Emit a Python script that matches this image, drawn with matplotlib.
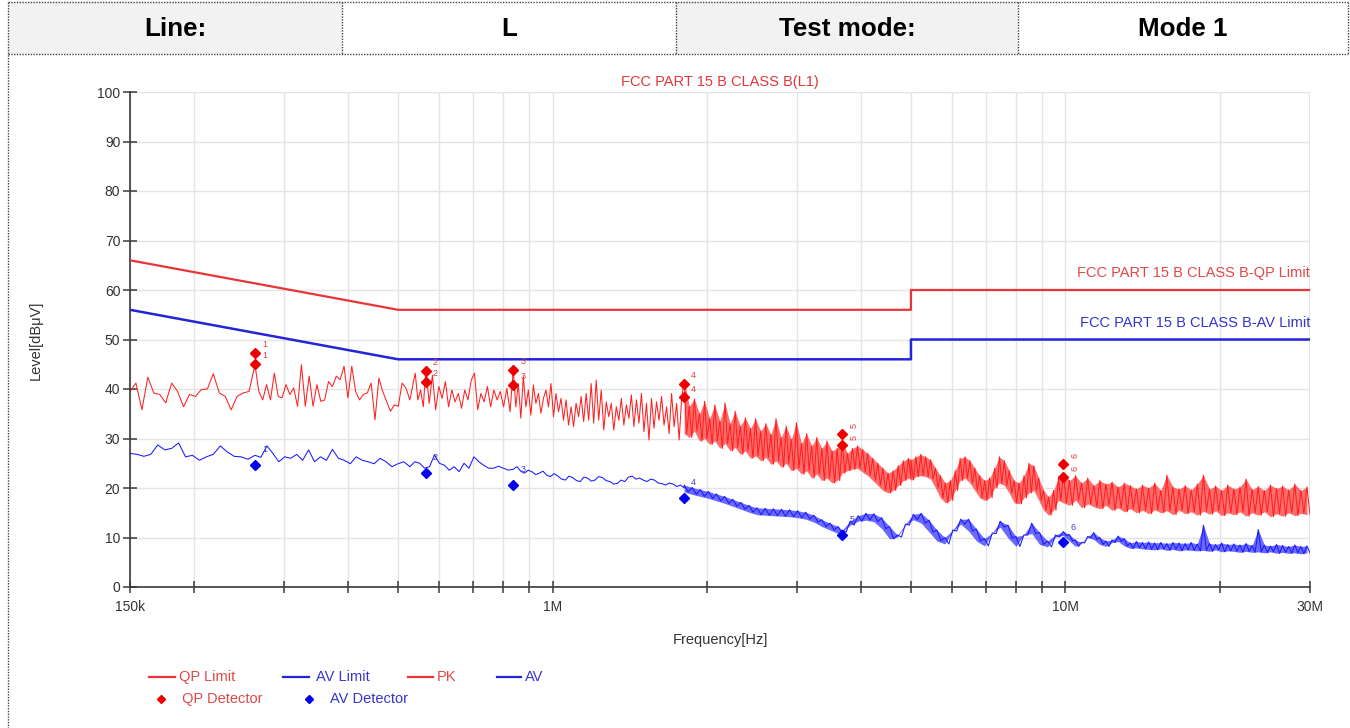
import numpy as np
import matplotlib
matplotlib.use("Agg")
import matplotlib.pyplot as plt
from matplotlib.patches import Rectangle

plt.rcParams['font.family'] = ['Liberation Sans', 'DejaVu Sans']

# ---------------- data ----------------
header_cells = ['Line:', 'L', 'Test mode:', 'Mode 1']
chart_title = 'FCC PART 15 B CLASS B(L1)'
qp_limit_label = 'FCC PART 15 B CLASS B-QP Limit'
av_limit_label = 'FCC PART 15 B CLASS B-AV Limit'

qp_limit_freq = [150e3, 500e3, 5e6, 5e6, 30e6]
qp_limit_level = [66, 56, 56, 60, 60]
av_limit_freq = [150e3, 500e3, 5e6, 5e6, 30e6]
av_limit_level = [56, 46, 46, 50, 50]

marker_ids = ['1', '2', '3', '4', '5', '6']
marker_freq = [262.9e3, 566.5e3, 838.5e3, 1.806e6, 3.673e6, 9.91e6]
qp_marker_hi = [47.3, 43.7, 43.8, 41.1, 30.9, 24.8]
qp_marker_lo = [45.0, 41.5, 40.9, 38.3, 28.6, 22.2]
av_marker = [24.6, 23.0, 20.6, 18.0, 10.5, 9.0]

x_ticks = [150e3, 1e6, 10e6, 30e6]
x_tick_labels = ['150k', '1M', '10M', '30M']
y_ticks = list(range(0, 101, 10))

legend_row1 = ['QP Limit', 'AV Limit', 'PK', 'AV']
legend_row2 = ['QP Detector', 'AV Detector']

# PK sweep, read piecewise between anchor frequencies
pk_bounds = [150e3, 262.9e3, 527e3, 566.5e3, 838.5e3, 1.806e6, 3.673e6, 5e6, 9.91e6, 30e6]
pk_seg1 = [39.5, 41.2, 35.8, 42.4, 39.2, 38.9, 37.2, 41.2, 39.5, 36.4, 38.9, 38.5, 39.9, 40.0,
           43.1, 39.2, 38.5, 35.8, 38.5, 39.2, 39.5, 44.9]
pk_seg2 = [44.9, 39.5, 37.8, 40.9, 37.8, 43.2, 38.5, 38.2, 40.9, 38.9, 40.2, 36.5, 44.9, 36.5,
           42.6, 36.5, 40.9, 37.5, 37.8, 41.5, 40.5, 42.6, 41.9, 44.6, 38.2, 44.6, 39.5, 37.8,
           38.9, 39.2, 41.2, 33.8, 42.2, 39.5, 37.5, 35.5, 36.8, 36.5, 41.2, 40.2, 37.8]
pk_seg3 = [37.8, 40.5, 43.2, 37.8, 39.8, 36.4, 44.0]
pk_seg4 = [44.0, 37.1, 42.8, 35.8, 40.5, 38.1, 41.5, 36.4, 39.8, 37.4, 39.1, 36.1, 39.8, 37.8,
           41.8, 43.2, 35.8, 39.1, 37.4, 40.5, 36.4, 39.8, 37.8, 39.5, 36.4, 40.1, 35.4, 44.0]
pk_seg5 = [44.0, 36.4, 41.1, 34.1, 42.5, 36.4, 39.8, 34.7, 40.8, 37.1, 39.1, 35.1, 38.1, 39.8,
           36.4, 41.1, 34.4, 39.1, 35.4, 38.1, 33.7, 37.8, 32.7, 36.4, 32.4, 37.1, 34.4, 38.5,
           33.4, 39.1, 33.7, 41.1, 33.1, 41.8, 33.7, 39.8, 31.7, 37.4, 34.4, 37.1, 31.7, 36.4,
           33.7, 38.1, 32.7, 36.8, 34.1, 38.8, 32.4, 37.8, 33.1, 39.1, 31.4, 37.1, 29.7, 38.1,
           32.1, 37.4, 33.7, 38.5, 32.7, 36.4, 31.0, 39.1, 32.4, 37.1, 29.7, 38.1, 41.8]
pk_seg6 = [41.8, 31.0, 36.5, 30.2, 38.0, 31.5, 35.0, 29.5, 37.5, 30.0, 34.0, 28.8, 36.8, 29.5,
           33.5, 28.0, 37.2, 29.0, 33.0, 27.5, 35.5, 28.2, 32.5, 26.8, 34.2, 27.5, 32.0, 26.0,
           34.0, 26.5, 31.5, 25.5, 33.0, 26.2, 30.8, 24.8, 34.0, 25.5, 30.2, 24.2, 32.5, 25.0,
           29.8, 23.5, 33.2, 24.0, 29.0, 22.8, 31.0, 23.5, 28.5, 22.0, 30.2, 22.8, 28.0, 21.5,
           29.5, 22.0, 27.5, 21.0, 28.0, 21.5, 29.5]
pk_seg7 = [29.5, 23.0, 27.0, 23.5, 28.0, 23.8, 28.5, 24.0, 27.8, 23.2, 27.0, 22.5, 26.0, 21.5,
           25.0, 20.5, 24.0, 19.5, 23.0, 19.0, 23.5, 19.5, 24.5, 20.5, 25.5, 21.5, 26.0, 22.0]
pk_seg8 = [25.7, 21.6, 26.3, 22.3, 26.8, 22.5, 26.3, 22.3, 25.7, 21.8, 24.0, 20.0, 22.5, 18.0,
           21.0, 17.0, 21.5, 17.5, 23.5, 19.5, 26.0, 21.5, 26.3, 22.0, 25.5, 21.0, 24.0, 19.5,
           22.5, 18.0, 21.5, 17.5, 22.0, 18.0, 24.0, 20.0, 26.3, 21.0, 25.5, 20.5, 23.5, 19.0,
           21.5, 17.0, 21.0, 16.8, 22.5, 18.0, 25.0, 19.0, 24.5, 19.5, 22.0, 17.5, 19.5, 15.5,
           18.2, 14.5, 19.5, 15.5, 22.0, 17.5, 23.0]
pk_seg9 = [23.0, 17.0, 21.5, 16.5, 22.5, 17.5, 21.0, 16.0, 22.0, 16.8, 20.5, 16.2, 21.5, 15.8,
           20.8, 16.5, 21.2, 15.5, 20.2, 16.0, 21.0, 15.2, 20.5, 15.8, 19.8, 15.0, 20.6, 15.5,
           20.0, 14.8, 21.0, 15.6, 19.5, 15.0, 22.6, 15.4, 20.2, 14.6, 19.8, 15.5, 20.5, 14.8,
           19.6, 15.2, 20.8, 14.5, 22.6, 15.3, 19.8, 14.7, 20.4, 15.4, 19.5, 14.4, 20.6, 15.0,
           19.8, 14.6, 20.2, 15.2, 21.8, 14.3, 19.7, 15.0, 20.3, 14.5, 19.5, 15.2, 20.6, 14.2,
           19.9, 14.8, 20.4, 14.3, 19.6, 15.0, 20.8, 14.4, 19.5, 14.9, 20.2, 14.6]

# AV sweep
av_bounds = [150e3, 262.9e3, 527e3, 838.5e3, 1.806e6, 3.673e6, 9.91e6, 30e6]
av_seg1 = [27.0, 26.8, 26.4, 26.8, 28.7, 27.7, 28.0, 29.1, 26.3, 26.6, 25.6, 26.3, 26.8, 28.5,
           27.3, 26.4, 26.3, 25.8, 26.6]
av_seg2 = [26.6, 26.2, 28.5, 27.0, 25.3, 26.3, 26.0, 26.8, 25.6, 27.7, 25.3, 26.3, 25.6, 27.8,
           26.0, 25.6, 24.9, 26.3, 25.6, 25.3, 24.9, 26.0, 25.3, 24.3, 24.9, 25.3, 24.3]
av_seg3 = [24.3, 25.3, 25.0, 24.0, 24.3, 26.7, 25.0, 24.6, 23.6, 24.3, 23.3, 25.0, 24.0, 26.3,
           25.3, 24.6, 24.0, 24.0, 24.4, 24.0, 23.6, 23.8]
av_seg4 = [23.8, 24.3, 23.4, 23.0, 23.6, 23.3, 22.7, 23.0, 23.4, 22.6, 22.3, 22.9, 22.4, 21.8,
           21.6, 22.4, 22.1, 21.5, 21.3, 22.2, 22.0, 21.4, 21.6, 22.3, 22.1, 21.5, 21.3, 20.8,
           20.9, 21.6, 21.3, 22.2, 22.4, 21.8, 22.0, 21.6, 21.3, 21.8, 21.6, 21.0, 20.9, 20.6,
           21.0, 20.8, 20.3, 20.6, 20.0]
av_seg5 = [20.6, 19.2, 20.1, 18.7, 19.7, 18.3, 19.3, 17.9, 18.8, 17.4, 18.3, 16.9, 17.7, 16.3,
           17.1, 15.7, 16.5, 15.1, 16.0, 14.6, 15.9, 14.5, 15.8, 14.4, 15.7, 14.3, 15.6, 14.2,
           15.4, 14.0, 15.1, 13.7, 14.5, 13.1, 13.6, 12.2, 12.9, 11.5, 12.2, 10.8]
av_seg6 = [11.5, 11.1, 13.3, 12.5, 14.4, 13.3, 14.9, 13.5, 14.8, 13.2, 14.0, 11.8, 12.2, 9.7,
           10.5, 10.1, 12.7, 12.5, 14.7, 13.6, 14.9, 12.9, 13.5, 11.1, 11.5, 9.3, 10.0, 8.7,
           11.5, 11.3, 13.7, 12.7, 13.7, 11.3, 11.7, 9.3, 9.8, 8.3, 10.9, 10.8, 13.3, 12.1,
           12.5, 9.9, 10.2, 8.2, 10.5, 10.5, 12.9, 10.8, 11.0, 8.6, 9.3, 8.1, 10.5, 10.1, 11.2]
av_seg7 = [11.2, 10.4, 10.6, 9.3, 9.5, 8.2, 9.0, 8.9, 10.2, 10.0, 11.0, 9.6, 10.0, 8.6, 9.3,
           8.2, 9.5, 9.0, 10.3, 9.2, 9.8, 8.3, 8.9, 7.8, 9.2, 7.9, 9.0, 7.7, 9.1, 7.6, 8.9, 7.5,
           9.0, 7.7, 8.8, 7.4, 9.0, 7.6, 8.9, 7.3, 8.8, 7.5, 9.0, 7.4, 8.7, 7.3, 12.5, 7.4, 8.8,
           7.2, 8.6, 7.5, 8.9, 7.1, 8.6, 7.3, 8.7, 7.2, 8.5, 7.0, 8.8, 7.2, 8.4, 7.0, 11.6, 7.1,
           8.5, 6.9, 8.3, 7.1, 8.6, 6.8, 8.4, 7.0, 8.2, 6.8, 8.5, 6.9, 8.2, 6.7, 8.3, 6.9]

pk_segments = [pk_seg1, pk_seg2, pk_seg3, pk_seg4, pk_seg5, pk_seg6, pk_seg7, pk_seg8, pk_seg9]
av_segments = [av_seg1, av_seg2, av_seg3, av_seg4, av_seg5, av_seg6, av_seg7]
pk_dense_from = 5   # segments from this index on are read as alternating top/bottom of a band
av_dense_from = 4


def sweep(bounds, segments):
    freqs, levels = [], []
    for f0, f1, vals in zip(bounds[:-1], bounds[1:], segments):
        freqs.extend(np.geomspace(f0, f1, len(vals)))
        levels.extend(vals)
    return np.array(freqs), np.array(levels)


def band(bounds, segments, start):
    fx, lo, hi = [], [], []
    for k, (f0, f1, vals) in enumerate(zip(bounds[:-1], bounds[1:], segments)):
        if k < start:
            continue
        f = np.geomspace(f0, f1, len(vals))
        for j in range(0, len(vals) - 1, 2):
            fx.append(f[j])
            lo.append(min(vals[j], vals[j + 1]))
            hi.append(max(vals[j], vals[j + 1]))
    return np.array(fx), np.array(lo), np.array(hi)


pk_f, pk_v = sweep(pk_bounds, pk_segments)
av_f, av_v = sweep(av_bounds, av_segments)
pkb_f, pkb_lo, pkb_hi = band(pk_bounds, pk_segments, pk_dense_from)
avb_f, avb_lo, avb_hi = band(av_bounds, av_segments, av_dense_from)

# ---------------- styling ----------------
RED = '#ff2020'
RED_LIM = '#e8353a'
BLUE = '#1a1aff'
BLUE_LIM = '#2424d8'
TXT = '#333333'
RED_TXT = '#e04848'
BLUE_TXT = '#3535cc'
FS = 10.5

W, H = 1350, 728
fig = plt.figure(figsize=(W / 100, H / 100), dpi=100)
fig.patch.set_facecolor('white')

# background overlay (pixel coordinates)
bg = fig.add_axes([0, 0, 1, 1], zorder=-5)
bg.set_xlim(0, W)
bg.set_ylim(H, 0)
bg.axis('off')
cell_edges = [8, 342, 676, 1018, 1348]
hdr_top, hdr_bot = 2, 54
for i, label in enumerate(header_cells):
    x0, x1 = cell_edges[i], cell_edges[i + 1]
    if i % 2 == 0:
        bg.add_patch(Rectangle((x0, hdr_top), x1 - x0, hdr_bot - hdr_top,
                               facecolor='#f2f2f2', edgecolor='none'))
    bg.text((x0 + x1) / 2, (hdr_top + hdr_bot) / 2 + 1, label, ha='center', va='center',
            fontsize=18.7, fontweight='bold', color='black')
dot = dict(color='#444444', lw=1, ls=(0, (1, 1)))
bg.plot([8, 1348], [hdr_top, hdr_top], **dot)
bg.plot([8, 1348], [hdr_bot, hdr_bot], **dot)
for xe in cell_edges[1:]:
    bg.plot([xe, xe], [hdr_top, hdr_bot], **dot)
bg.plot([8, 8], [hdr_top, H], **dot)

# legend drawn at fixed pixel places (as laid out in the report)
row1_y, row2_y = 677, 699
row1_handles = [(149, 175, RED_LIM), (283, 309, BLUE_LIM), (408, 433, RED_LIM), (497, 521, BLUE_LIM)]
row1_text_x = [179, 316, 437, 525]
row1_colors = [RED_TXT, BLUE_TXT, RED_TXT, BLUE_TXT]
for (xa, xb, c), tx, lab, tc in zip(row1_handles, row1_text_x, legend_row1, row1_colors):
    bg.plot([xa, xb], [row1_y, row1_y], color=c, lw=1.6)
    bg.text(tx, row1_y, lab, ha='left', va='center', fontsize=FS, color=tc)
row2_marker_x = [161, 309]
row2_text_x = [182, 330]
row2_colors = [('#ee0000', RED_TXT), ('#0000ee', BLUE_TXT)]
for mx, tx, lab, (mc, tc) in zip(row2_marker_x, row2_text_x, legend_row2, row2_colors):
    bg.plot([mx], [row2_y], ls='none', marker='D', ms=4, color=mc)
    bg.text(tx, row2_y, lab, ha='left', va='center', fontsize=FS, color=tc)

# main axes
L, R, T, B = 130, 1310, 92, 587
ax = fig.add_axes([L / W, 1 - B / H, (R - L) / W, (B - T) / H])
ax.set_facecolor('white')
ax.set_xscale('log')
ax.set_xlim(150e3, 30e6)
ax.set_ylim(0, 100)

ax.fill_between(pkb_f, pkb_lo, pkb_hi, color=RED, alpha=0.65, lw=0, zorder=2)
ax.fill_between(avb_f, avb_lo, avb_hi, color=BLUE, alpha=0.65, lw=0, zorder=2)
ax.plot(pk_f, pk_v, color=RED, lw=0.75, zorder=2)
ax.plot(av_f, av_v, color=BLUE, lw=0.75, zorder=2)
ax.plot(qp_limit_freq, qp_limit_level, color=RED_LIM, lw=1.6, zorder=3)
ax.plot(av_limit_freq, av_limit_level, color=BLUE_LIM, lw=1.8, zorder=3)

ax.plot(marker_freq, qp_marker_hi, ls='none', marker='D', ms=5.5, color='#ee0000', zorder=4)
ax.plot(marker_freq, qp_marker_lo, ls='none', marker='D', ms=5.5, color='#ee0000', zorder=4)
ax.plot(marker_freq, av_marker, ls='none', marker='D', ms=5.5, color='#0000ee', zorder=4)

for i, mid in enumerate(marker_ids):
    rot = 90 if i >= 4 else 0
    for v in (qp_marker_hi[i], qp_marker_lo[i]):
        ax.annotate(mid, (marker_freq[i], v), xytext=(5, 6), textcoords='offset points',
                    fontsize=6.5, color='#e04040', rotation=rot, ha='left', va='center')
    ax.annotate(mid, (marker_freq[i], av_marker[i]), xytext=(5, 11), textcoords='offset points',
                fontsize=6.5, color='#4040d0', ha='left', va='center')

ax.text(30e6, 63.4, qp_limit_label, ha='right', va='center', fontsize=FS, color=RED_TXT)
ax.text(30e6, 53.3, av_limit_label, ha='right', va='center', fontsize=FS, color=BLUE_TXT)

# grid & ticks
ax.set_xticks(x_ticks)
ax.set_xticklabels(x_tick_labels)
minor = [m * 10 ** e for e in (5, 6, 7) for m in range(1, 10)]
minor = [f for f in minor if 150e3 < f < 30e6 and f not in x_ticks]
ax.set_xticks(minor, minor=True)
ax.set_xticklabels([], minor=True)
ax.set_yticks(y_ticks)
ax.grid(True, which='both', axis='x', color='#e4e4e4', lw=1)
ax.grid(True, which='major', axis='y', color='#e4e4e4', lw=1)
ax.axvline(30e6, color='#e4e4e4', lw=1.5, zorder=0)
ax.set_axisbelow(True)

for s in ('top', 'right'):
    ax.spines[s].set_visible(False)
for s in ('left', 'bottom'):
    ax.spines[s].set_color('#3a3a3a')
    ax.spines[s].set_linewidth(1.2)
ax.tick_params(axis='x', which='both', direction='inout', length=9, width=1.1,
               color='#3a3a3a', labelsize=10, labelcolor=TXT, pad=5)
ax.tick_params(axis='y', which='major', direction='inout', length=10, width=1.1,
               color='#3a3a3a', labelsize=10, labelcolor=TXT, pad=2)

fig.text(720 / W, 1 - 82 / H, chart_title, ha='center', va='center', fontsize=FS, color='#e03838')
fig.text(720 / W, 1 - 640 / H, 'Frequency[Hz]', ha='center', va='center', fontsize=FS, color=TXT)
fig.text(36 / W, 1 - 340 / H, 'Level[dBμV]', ha='center', va='center', fontsize=FS,
         color=TXT, rotation=90)

fig.savefig('out.png', dpi=100, facecolor='white')
